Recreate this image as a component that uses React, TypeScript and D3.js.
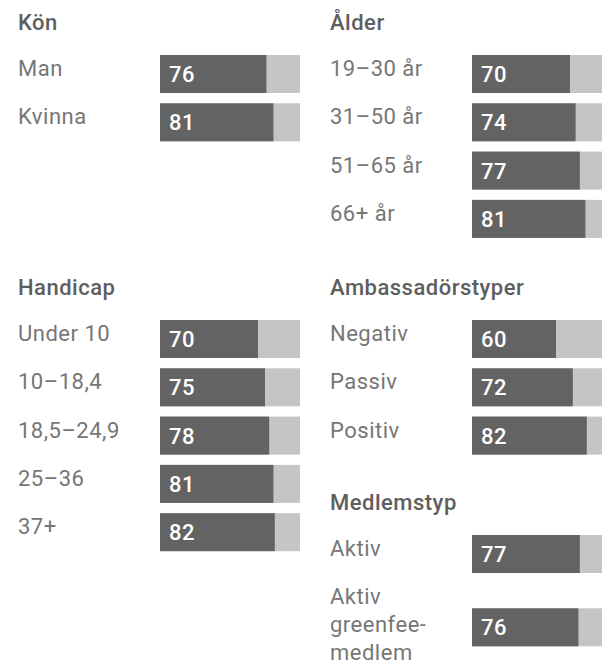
import React from 'react';
import * as d3 from 'd3';

// --- data ---
const genderCats = ['Man', 'Kvinna'];
const genderValues = [76, 81];

const ageCats = ['19–30 år', '31–50 år', '51–65 år', '66+ år'];
const ageValues = [70, 74, 77, 81];

const handicapCats = ['Under 10', '10–18,4', '18,5–24,9', '25–36', '37+'];
const handicapValues = [70, 75, 78, 81, 82];

const ambassadorCats = ['Negativ', 'Passiv', 'Positiv'];
const ambassadorValues = [60, 72, 82];

const memberCats = ['Aktiv', 'Aktiv\ngreenfee-\nmedlem'];
const memberValues = [77, 76];

const W = 602;
const H = 662;
const FONT = 'Roboto, "Noto Sans", sans-serif';
const DARK = '#636363';
const LIGHT = '#c5c5c5';
const LABEL = '#767676';
const TITLE = '#5e5e5e';

const PITCH = 48.3;
const BAR_H = 38;
const LINE_H = 28;
const FS = 22;
const LS = 0.5;

// value -> pixel length of a bar
const x = d3.scaleLinear().domain([0, 100]).range([0, 140]);

interface GroupProps {
  title: string;
  cats: string[];
  values: number[];
  left: number;     // label / title x
  barX: number;     // bar start
  titleY: number;   // title baseline
}

function Group({ title, cats, values, left, barX, titleY }: GroupProps) {
  let rowTop = titleY + 25;
  const rows = cats.map((c, i) => {
    const lines = c.split('\n');
    const top = rowTop;
    const barTop = top + (lines.length - 1) * 12.5;
    rowTop += PITCH + (lines.length - 1) * LINE_H * 0.9;
    return { lines, top, barTop, v: values[i] };
  });

  return (
    <g>
      <text x={left} y={titleY} fill={TITLE} fontSize={FS} fontWeight={500} fontFamily={FONT} letterSpacing={LS}>
        {title}
      </text>
      {rows.map((r, i) => (
        <g key={i}>
          <text x={left} y={r.top + 21} fill={LABEL} fontSize={FS} fontFamily={FONT} letterSpacing={LS}>
            {r.lines.map((l, j) => (
              <tspan key={j} x={left} dy={j === 0 ? 0 : LINE_H}>{l}</tspan>
            ))}
          </text>
          <rect x={barX} y={r.barTop} width={x(100)} height={BAR_H} fill={LIGHT} />
          <rect x={barX} y={r.barTop} width={x(r.v)} height={BAR_H} fill={DARK} />
          <text x={barX + 9} y={r.barTop + 27} fill="#ffffff" fontSize={FS} fontWeight={500} fontFamily={FONT} letterSpacing={LS}>
            {r.v}
          </text>
        </g>
      ))}
    </g>
  );
}

export default function App() {
  return (
    <svg width={W} height={H} style={{ position: 'absolute', left: 0, top: 0, background: '#fff' }}>
      <Group title="Kön" cats={genderCats} values={genderValues} left={18} barX={160} titleY={30} />
      <Group title="Ålder" cats={ageCats} values={ageValues} left={330} barX={472} titleY={30} />
      <Group title="Handicap" cats={handicapCats} values={handicapValues} left={18} barX={160} titleY={295} />
      <Group title="Ambassadörstyper" cats={ambassadorCats} values={ambassadorValues} left={330} barX={472} titleY={295} />
      <Group title="Medlemstyp" cats={memberCats} values={memberValues} left={330} barX={472} titleY={510} />
    </svg>
  );
}
